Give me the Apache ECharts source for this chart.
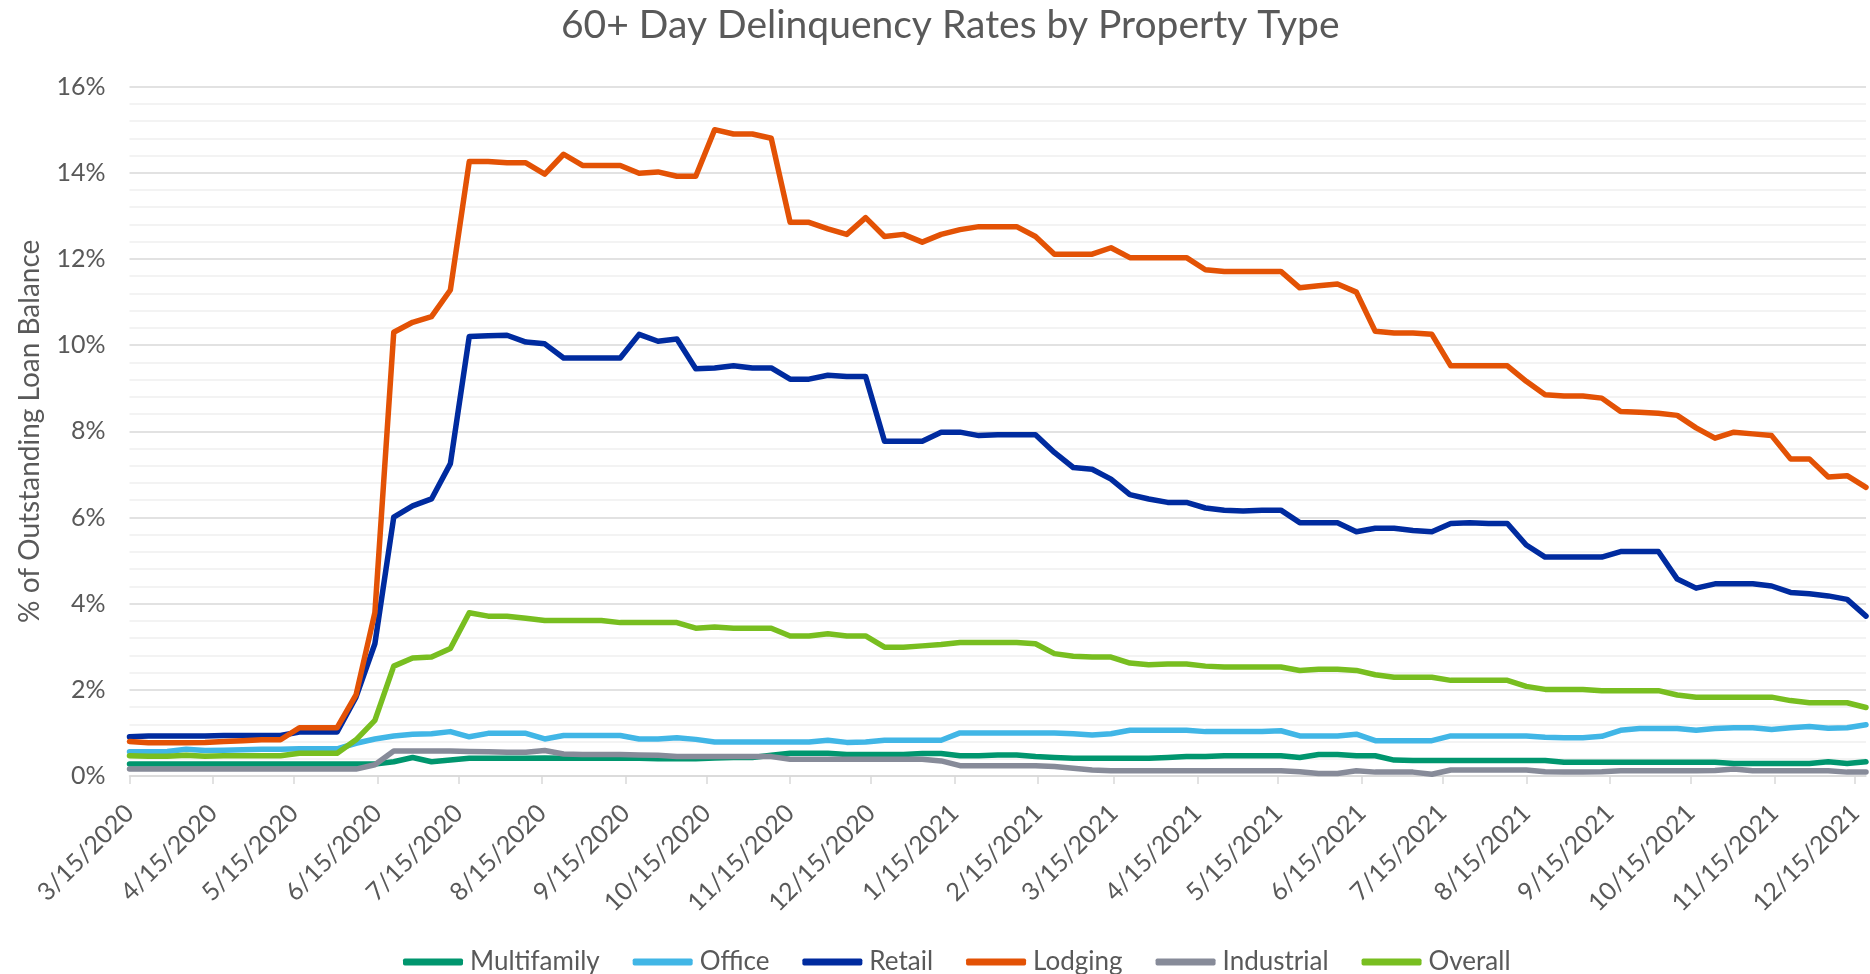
<!DOCTYPE html>
<html>
<head>
<meta charset="utf-8">
<title>60+ Day Delinquency Rates by Property Type</title>
<script src="https://cdn.jsdelivr.net/npm/echarts@6/dist/echarts.min.js"></script>
<style>
  html, body { margin: 0; padding: 0; background: #fff; }
  #chart { width: 1870px; height: 974px; }
</style>
</head>
<body>
<div id="chart"></div>
<script>
// weekly observation dates
const weeks = [
  "2020-03-15", "2020-03-22", "2020-03-29", "2020-04-05", "2020-04-12", "2020-04-19", "2020-04-26",
  "2020-05-03", "2020-05-10", "2020-05-17", "2020-05-24", "2020-05-31", "2020-06-07", "2020-06-14",
  "2020-06-21", "2020-06-28", "2020-07-05", "2020-07-12", "2020-07-19", "2020-07-26", "2020-08-02",
  "2020-08-09", "2020-08-16", "2020-08-23", "2020-08-30", "2020-09-06", "2020-09-13", "2020-09-20",
  "2020-09-27", "2020-10-04", "2020-10-11", "2020-10-18", "2020-10-25", "2020-11-01", "2020-11-08",
  "2020-11-15", "2020-11-22", "2020-11-29", "2020-12-06", "2020-12-13", "2020-12-20", "2020-12-27",
  "2021-01-03", "2021-01-10", "2021-01-17", "2021-01-24", "2021-01-31", "2021-02-07", "2021-02-14",
  "2021-02-21", "2021-02-28", "2021-03-07", "2021-03-14", "2021-03-21", "2021-03-28", "2021-04-04",
  "2021-04-11", "2021-04-18", "2021-04-25", "2021-05-02", "2021-05-09", "2021-05-16", "2021-05-23",
  "2021-05-30", "2021-06-06", "2021-06-13", "2021-06-20", "2021-06-27", "2021-07-04", "2021-07-11",
  "2021-07-18", "2021-07-25", "2021-08-01", "2021-08-08", "2021-08-15", "2021-08-22", "2021-08-29",
  "2021-09-05", "2021-09-12", "2021-09-19", "2021-09-26", "2021-10-03", "2021-10-10", "2021-10-17",
  "2021-10-24", "2021-10-31", "2021-11-07", "2021-11-14", "2021-11-21", "2021-11-28", "2021-12-05",
  "2021-12-12", "2021-12-19",
];

// x axis tick / label dates
const tickDates = [
  "2020-03-15", "2020-04-15", "2020-05-15", "2020-06-15", "2020-07-15", "2020-08-15",
  "2020-09-15", "2020-10-15", "2020-11-15", "2020-12-15", "2021-01-15", "2021-02-15",
  "2021-03-15", "2021-04-15", "2021-05-15", "2021-06-15", "2021-07-15", "2021-08-15",
  "2021-09-15", "2021-10-15", "2021-11-15", "2021-12-15",
];

// % of outstanding loan balance, one value per week
const multifamily = [
  0.28, 0.28, 0.28, 0.28, 0.28, 0.28, 0.28,
  0.28, 0.28, 0.28, 0.28, 0.28, 0.28, 0.28,
  0.33, 0.43, 0.33, 0.37, 0.41, 0.41, 0.41,
  0.41, 0.42, 0.41, 0.41, 0.41, 0.41, 0.41,
  0.40, 0.40, 0.40, 0.42, 0.43, 0.43, 0.48,
  0.53, 0.53, 0.53, 0.50, 0.50, 0.50, 0.50,
  0.52, 0.52, 0.47, 0.47, 0.49, 0.49, 0.45,
  0.43, 0.41, 0.41, 0.41, 0.41, 0.41, 0.43,
  0.45, 0.45, 0.47, 0.47, 0.47, 0.47, 0.43,
  0.50, 0.50, 0.47, 0.47, 0.37, 0.36, 0.36,
  0.36, 0.36, 0.36, 0.36, 0.36, 0.36, 0.32,
  0.32, 0.32, 0.32, 0.32, 0.32, 0.32, 0.32,
  0.32, 0.29, 0.29, 0.29, 0.29, 0.29, 0.33,
  0.29, 0.33,
];
const office = [
  0.56, 0.56, 0.57, 0.62, 0.59, 0.60, 0.61,
  0.62, 0.62, 0.63, 0.63, 0.63, 0.76, 0.86,
  0.93, 0.97, 0.98, 1.03, 0.91, 0.99, 0.99,
  0.99, 0.86, 0.94, 0.94, 0.94, 0.94, 0.86,
  0.86, 0.89, 0.85, 0.79, 0.79, 0.79, 0.79,
  0.79, 0.79, 0.83, 0.78, 0.79, 0.83, 0.83,
  0.83, 0.83, 1.00, 1.00, 1.00, 1.00, 1.00,
  1.00, 0.98, 0.95, 0.98, 1.06, 1.06, 1.06,
  1.06, 1.03, 1.03, 1.03, 1.03, 1.05, 0.93,
  0.93, 0.93, 0.97, 0.82, 0.82, 0.82, 0.82,
  0.93, 0.93, 0.93, 0.93, 0.93, 0.90, 0.89,
  0.89, 0.92, 1.06, 1.10, 1.10, 1.10, 1.06,
  1.10, 1.12, 1.12, 1.08, 1.12, 1.15, 1.11,
  1.12, 1.19,
];
const retail = [
  0.91, 0.93, 0.93, 0.93, 0.93, 0.94, 0.94,
  0.94, 0.94, 1.02, 1.02, 1.02, 1.83, 3.07,
  6.01, 6.27, 6.43, 7.25, 10.20, 10.22, 10.23,
  10.07, 10.03, 9.70, 9.70, 9.70, 9.70, 10.25,
  10.09, 10.14, 9.45, 9.47, 9.52, 9.47, 9.47,
  9.21, 9.21, 9.30, 9.27, 9.27, 7.77, 7.77,
  7.77, 7.98, 7.98, 7.90, 7.92, 7.92, 7.92,
  7.51, 7.16, 7.12, 6.89, 6.53, 6.43, 6.35,
  6.35, 6.22, 6.17, 6.15, 6.17, 6.17, 5.88,
  5.88, 5.88, 5.67, 5.75, 5.75, 5.70, 5.67,
  5.86, 5.88, 5.86, 5.86, 5.36, 5.08, 5.08,
  5.08, 5.08, 5.21, 5.21, 5.21, 4.57, 4.36,
  4.46, 4.46, 4.46, 4.41, 4.26, 4.23, 4.18,
  4.10, 3.71,
];
const lodging = [
  0.80, 0.77, 0.77, 0.77, 0.78, 0.80, 0.82,
  0.84, 0.84, 1.12, 1.12, 1.12, 1.88, 3.79,
  10.30, 10.53, 10.66, 11.28, 14.26, 14.26, 14.23,
  14.23, 13.97, 14.43, 14.17, 14.17, 14.17, 13.99,
  14.02, 13.92, 13.92, 15.00, 14.90, 14.90, 14.80,
  12.85, 12.85, 12.70, 12.57, 12.96, 12.52, 12.57,
  12.39, 12.57, 12.68, 12.75, 12.75, 12.75, 12.52,
  12.11, 12.11, 12.11, 12.26, 12.03, 12.03, 12.03,
  12.03, 11.75, 11.71, 11.71, 11.71, 11.71, 11.33,
  11.38, 11.42, 11.23, 10.32, 10.28, 10.28, 10.25,
  9.52, 9.52, 9.52, 9.52, 9.16, 8.85, 8.82,
  8.82, 8.77, 8.46, 8.44, 8.42, 8.37, 8.08,
  7.84, 7.98, 7.94, 7.90, 7.36, 7.36, 6.94,
  6.97, 6.70,
];
const industrial = [
  0.16, 0.16, 0.16, 0.16, 0.16, 0.16, 0.16,
  0.16, 0.16, 0.16, 0.16, 0.16, 0.16, 0.26,
  0.58, 0.58, 0.58, 0.58, 0.57, 0.56, 0.55,
  0.55, 0.59, 0.51, 0.50, 0.50, 0.50, 0.49,
  0.48, 0.45, 0.45, 0.45, 0.45, 0.45, 0.45,
  0.39, 0.39, 0.39, 0.39, 0.39, 0.39, 0.39,
  0.39, 0.35, 0.24, 0.24, 0.24, 0.24, 0.24,
  0.22, 0.18, 0.14, 0.12, 0.12, 0.12, 0.12,
  0.12, 0.12, 0.12, 0.12, 0.12, 0.12, 0.10,
  0.06, 0.06, 0.12, 0.09, 0.09, 0.09, 0.04,
  0.14, 0.14, 0.14, 0.14, 0.14, 0.10, 0.09,
  0.09, 0.10, 0.12, 0.12, 0.12, 0.12, 0.12,
  0.13, 0.16, 0.12, 0.12, 0.12, 0.12, 0.12,
  0.09, 0.09,
];
const overall = [
  0.47, 0.46, 0.46, 0.48, 0.46, 0.47, 0.47,
  0.47, 0.47, 0.53, 0.53, 0.53, 0.84, 1.29,
  2.55, 2.74, 2.76, 2.96, 3.79, 3.71, 3.71,
  3.66, 3.61, 3.61, 3.61, 3.61, 3.56, 3.56,
  3.56, 3.56, 3.43, 3.46, 3.43, 3.43, 3.43,
  3.25, 3.25, 3.30, 3.25, 3.25, 2.99, 2.99,
  3.02, 3.05, 3.10, 3.10, 3.10, 3.10, 3.07,
  2.84, 2.78, 2.76, 2.76, 2.62, 2.58, 2.60,
  2.60, 2.55, 2.53, 2.53, 2.53, 2.53, 2.45,
  2.48, 2.48, 2.45, 2.35, 2.29, 2.29, 2.29,
  2.22, 2.22, 2.22, 2.22, 2.08, 2.01, 2.01,
  2.01, 1.98, 1.98, 1.98, 1.98, 1.88, 1.83,
  1.83, 1.83, 1.83, 1.83, 1.75, 1.70, 1.70,
  1.70, 1.59,
];

const seriesDefs = [
  { name: "Multifamily", color: "#00966e", values: multifamily },
  { name: "Office", color: "#41b6e6", values: office },
  { name: "Retail", color: "#002b9f", values: retail },
  { name: "Lodging", color: "#e35205", values: lodging },
  { name: "Industrial", color: "#878b99", values: industrial },
  { name: "Overall", color: "#78be20", values: overall },
];

const FONT = "Lato, 'Open Sans', sans-serif";
const TEXT = "#595959";

// x is a plain number: local-time ms of the day
function day(s) {
  const [y, m, d] = s.split("-").map(Number);
  return new Date(y, m - 1, d).getTime();
}

function fmtDate(v) {
  const d = new Date(v);
  return `${d.getMonth() + 1}/${d.getDate()}/${d.getFullYear()}`;
}

const tickVals = tickDates.map(day);

const chart = echarts.init(document.getElementById("chart"), null, { renderer: "canvas" });

chart.setOption({
  animation: false,
  backgroundColor: "#fff",
  textStyle: { fontFamily: FONT },
  title: {
    text: "60+ Day Delinquency Rates by Property Type",
    left: 556,
    top: 1,
    textStyle: { fontFamily: FONT, fontSize: 39, fontWeight: "normal", color: TEXT },
  },
  legend: {
    left: 398,
    top: 944,
    itemWidth: 60,
    itemHeight: 7,
    itemGap: 33,
    icon: "roundRect",
    textStyle: { fontFamily: FONT, fontSize: 26, color: TEXT, padding: [0, 0, 0, 2] },
    data: seriesDefs.map(s => s.name),
  },
  grid: { left: 129.5, right: 4, top: 86.6, bottom: 198, containLabel: false },
  xAxis: {
    type: "value",
    min: day(weeks[0]),
    max: day(weeks[weeks.length - 1]),
    axisLine: { show: true, onZero: false, lineStyle: { color: "#d9d9d9", width: 1.5 } },
    axisTick: {
      show: true,
      customValues: tickVals,
      length: 8,
      lineStyle: { color: "#d9d9d9", width: 1.5 },
    },
    axisLabel: {
      customValues: tickVals,
      rotate: 45,
      margin: 33,
      fontFamily: FONT,
      fontSize: 25,
      color: TEXT,
      hideOverlap: false,
      formatter: v => fmtDate(v),
    },
    splitLine: { show: false },
  },
  yAxis: {
    type: "value",
    min: 0,
    max: 16,
    interval: 2,
    name: "% of Outstanding Loan Balance",
    nameLocation: "middle",
    nameRotate: 90,
    nameGap: 86,
    nameTextStyle: { fontFamily: FONT, fontSize: 28, color: TEXT },
    axisLine: { show: false },
    axisTick: { show: false },
    axisLabel: { fontFamily: FONT, fontSize: 25, color: TEXT, margin: 24, formatter: "{value}%" },
    splitLine: { show: true, lineStyle: { color: "#d9d9d9", width: 1.5 } },
    minorTick: { show: false, splitNumber: 5 },
    minorSplitLine: { show: true, lineStyle: { color: "#efefef", width: 1.5 } },
  },
  series: seriesDefs.map(s => ({
    name: s.name,
    type: "line",
    showSymbol: false,
    symbol: "none",
    color: s.color,
    lineStyle: { color: s.color, width: 5.5, cap: "round", join: "round" },
    data: weeks.map((w, i) => [day(w), s.values[i]]),
  })),
});
</script>
</body>
</html>
